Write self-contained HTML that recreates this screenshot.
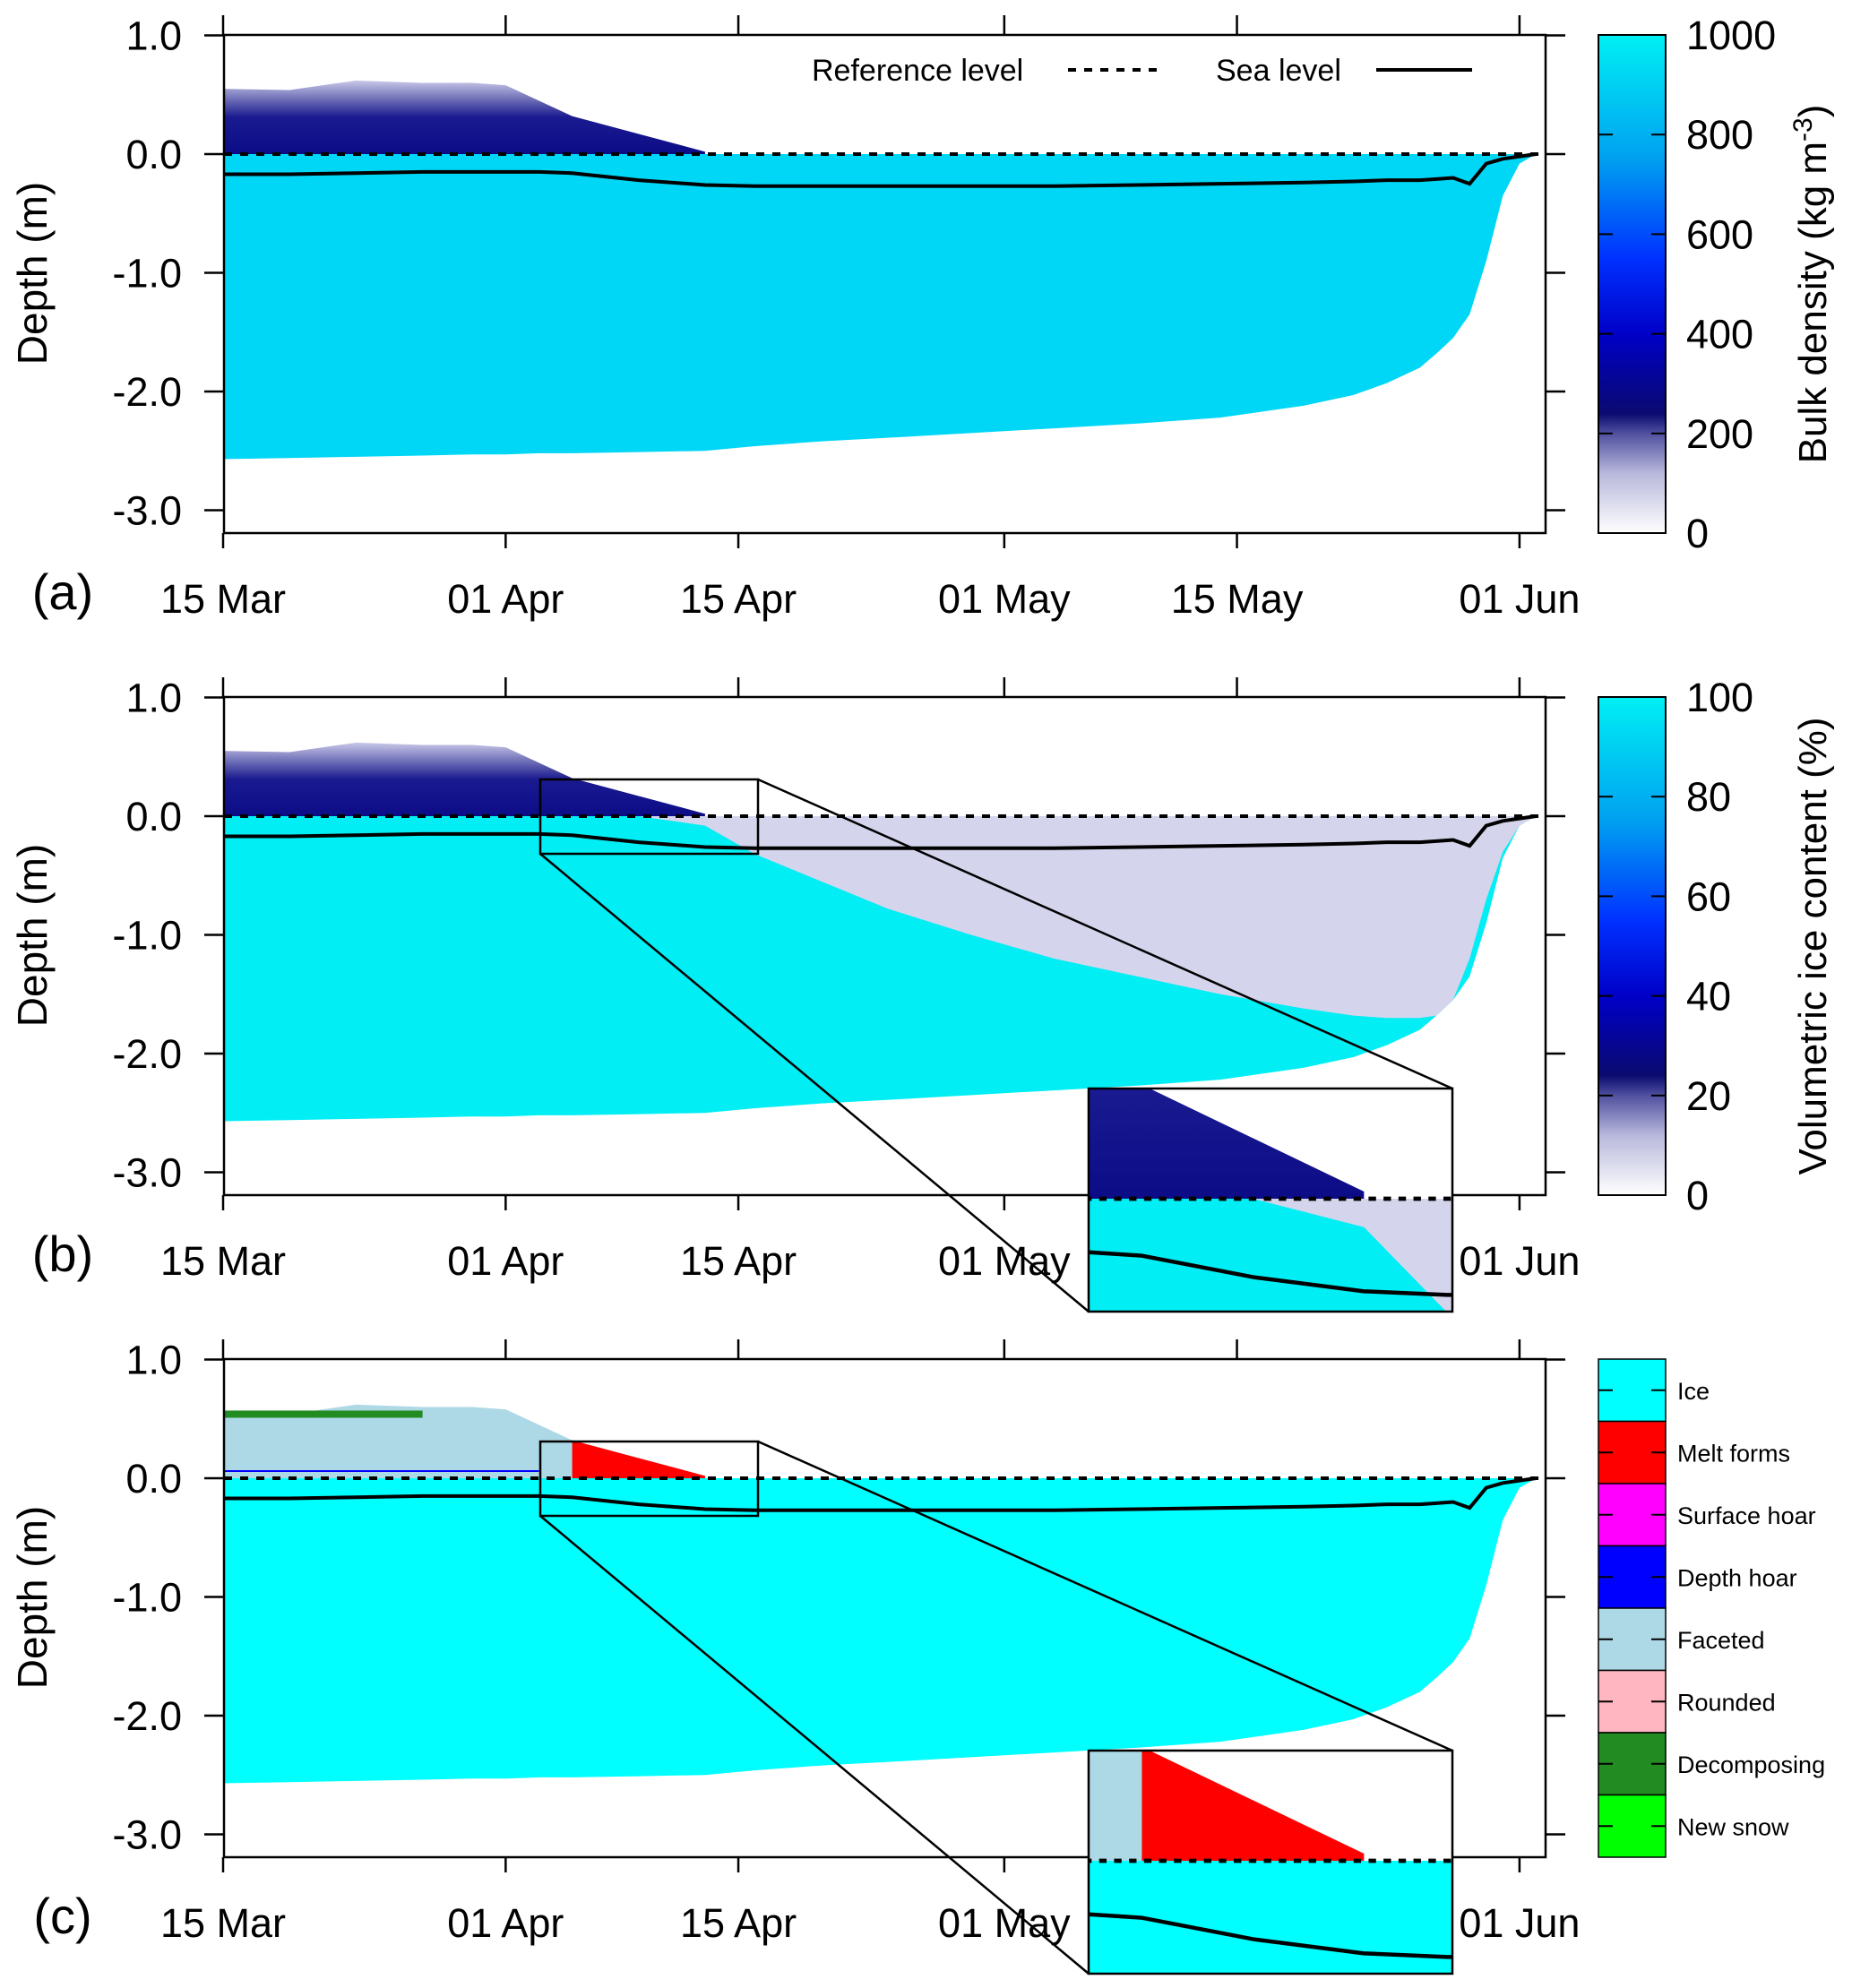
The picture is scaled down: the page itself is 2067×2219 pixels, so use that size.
<!DOCTYPE html>
<html><head><meta charset="utf-8"><style>
html,body{margin:0;padding:0;background:#fff;width:2067px;height:2219px;overflow:hidden}
svg{display:block;overflow:hidden}
text{font-family:"Liberation Sans",sans-serif;fill:#000}
</style></head><body>
<svg id="fig" width="2067" height="2219" viewBox="0 0 2067 2219" xmlns="http://www.w3.org/2000/svg">
<defs>
<linearGradient id="snowGrad" x1="0" y1="0" x2="0" y2="1">
<stop offset="0" stop-color="#c8c8e8"/><stop offset="0.25" stop-color="#7070b8"/><stop offset="0.5" stop-color="#1a1a90"/><stop offset="1" stop-color="#0c0c88"/></linearGradient>
<linearGradient id="cbA" x1="0" y1="1" x2="0" y2="0">
<stop offset="0" stop-color="#ffffff"/><stop offset="0.12" stop-color="#b8b8dc"/><stop offset="0.2" stop-color="#5050a0"/><stop offset="0.24" stop-color="#0a0a70"/><stop offset="0.4" stop-color="#0000c8"/><stop offset="0.55" stop-color="#0030ff"/><stop offset="0.75" stop-color="#00a0f0"/><stop offset="1" stop-color="#00f0f4"/></linearGradient>
<clipPath id="clipA"><rect x="250" y="39" width="1475" height="556"/></clipPath>
<clipPath id="clipB"><rect x="250" y="778" width="1475" height="556"/></clipPath>
<clipPath id="clipC"><rect x="250" y="1517" width="1475" height="556"/></clipPath>
<clipPath id="clipZB"><rect x="603" y="870" width="243" height="83"/></clipPath>
<clipPath id="clipZC"><rect x="603" y="1609" width="243" height="83"/></clipPath>
</defs>
<g id="root"></g>
</svg>
<script>
const days=[0,4,8,12,15,17,19,21,25,29,32,36,40,45,50,55,60,65,68,70,72,73,74,75,76,77,78,79];
const iceBottom=[-2.57,-2.56,-2.55,-2.54,-2.53,-2.53,-2.52,-2.52,-2.51,-2.5,-2.46,-2.42,-2.39,-2.35,-2.31,-2.27,-2.22,-2.12,-2.03,-1.93,-1.8,-1.68,-1.55,-1.35,-0.9,-0.35,-0.08,0];
const snowTop=[0.55,0.54,0.62,0.6,0.6,0.58,0.45,0.32,0.17,0.02,0,0,0,0,0,0,0,0,0,0,0,0,0,0,0,0,0,0];
const seaLevel=[-0.17,-0.17,-0.16,-0.15,-0.15,-0.15,-0.15,-0.16,-0.22,-0.26,-0.27,-0.27,-0.27,-0.27,-0.27,-0.26,-0.25,-0.24,-0.23,-0.22,-0.22,-0.21,-0.2,-0.25,-0.08,-0.04,-0.02,0];
const slushBottom=[0,0,0,0,0,0,0,0,0,-0.08,-0.32,-0.55,-0.78,-1.0,-1.2,-1.35,-1.5,-1.62,-1.68,-1.7,-1.7,-1.68,-1.55,-1.2,-0.7,-0.3,-0.08,0];
const dateLabels=["15 Mar","01 Apr","15 Apr","01 May","15 May","01 Jun"];
const dateDays=[0,17,31,47,61,78];
const depthTicks=[1,0,-1,-2,-3];
const cbTicksA=[0,200,400,600,800,1000];
const cbTicksB=[0,20,40,60,80,100];
const classes=["Ice","Melt forms","Surface hoar","Depth hoar","Faceted","Rounded","Decomposing","New snow"];
const classColors=["#00ffff","#ff0000","#ff00ff","#0000ff","#add8e6","#ffb6c1","#228b22","#00ff00"];

const NS="http://www.w3.org/2000/svg";
const root=document.getElementById('root');
const X=d=>249+d*18.55;
const Y=(v,off)=>off+172-v*132.5;
function el(tag,attrs,parent){const e=document.createElementNS(NS,tag);for(const k in attrs)e.setAttribute(k,attrs[k]);(parent||root).appendChild(e);return e;}
function poly(top,bot,off,filter){let pts=[];let idx=days.map((d,i)=>i).filter(filter||(()=>true));
 idx.forEach(i=>pts.push(X(days[i])+','+Y(top[i],off)));
 idx.slice().reverse().forEach(i=>pts.push(X(days[i])+','+Y(bot[i],off)));return pts.join(' ');}
const zeros=days.map(()=>0);

function panel(off,kind,clip,parent,inset){
 const g=el('g',{'clip-path':'url(#'+clip+')'},parent);
 
 
 const iceCol=kind==='a'?'#00d6f6':(kind==='b'?'#00eef4':'#00ffff');
 const ice=el('polygon',{points:poly(zeros,iceBottom,off),fill:iceCol},g);
 
 
 if(kind==='b'){
  const s=el('polygon',{points:poly(zeros,slushBottom,off),fill:'#d4d4ec'},g);
  
  
 }
 if(kind==='c'){
  const f=el('polygon',{points:poly(snowTop,zeros,off,i=>days[i]<=21),fill:'#add8e6'},g);
  
  
  const r=el('polygon',{points:poly(snowTop,zeros,off,i=>days[i]>=21&&days[i]<=29),fill:'#ff0000'},g);
  
  
  const gr=el('rect',{x:X(0),y:Y(0.57,off),width:X(12)-X(0),height:8,fill:'#228b22'},g);
  
  
  const bl=el('line',{x1:X(0),x2:X(19),y1:Y(0.06,off),y2:Y(0.06,off),stroke:'#0000ff','stroke-width':2},g);
  
  
 } else {
  const sn=el('polygon',{points:poly(snowTop,zeros,off,i=>days[i]<=29),fill:'url(#snowGrad)'},g);
  
  
 }
 const sw=inset?1.6:4;
 const ref=el('line',{x1:250,x2:1725,y1:Y(0,off),y2:Y(0,off),stroke:'#000','stroke-width':sw,'stroke-dasharray':inset?'5 5':'9 9'},g);
 
 
 const sl=el('polyline',{points:days.map((d,i)=>X(d)+','+Y(seaLevel[i],off)).join(' '),fill:'none',stroke:'#000','stroke-width':inset?1.5:4},g);
 
 
 return g;
}
function axes(off,label){
 const b=el('rect',{x:250,y:off+39,width:1475,height:556,fill:'none',stroke:'#000','stroke-width':2.5});
 
 
 dateDays.forEach((d,i)=>{
  el('line',{x1:X(d),x2:X(d),y1:off+17,y2:off+39,stroke:'#000','stroke-width':2.5});
  el('line',{x1:X(d),x2:X(d),y1:off+595,y2:off+612,stroke:'#000','stroke-width':2.5});
  const t=el('text',{x:X(d),y:off+684,'font-size':45,'text-anchor':'middle'});t.textContent=dateLabels[i];
  
  
 });
 depthTicks.forEach(v=>{
  el('line',{x1:228,x2:250,y1:Y(v,off),y2:Y(v,off),stroke:'#000','stroke-width':2.5});
  el('line',{x1:1725,x2:1747,y1:Y(v,off),y2:Y(v,off),stroke:'#000','stroke-width':2.5});
  const t=el('text',{x:203,y:Y(v,off)+16,'font-size':45,'text-anchor':'end'});t.textContent=v.toFixed(1);
  
  
 });
 const yt=el('text',{x:0,y:0,'font-size':46,'text-anchor':'middle',transform:`translate(52,${off+305}) rotate(-90)`});yt.textContent='Depth (m)';
 
 
 const pl=el('text',{x:70,y:off+680,'font-size':56,'text-anchor':'middle'});pl.textContent='('+label+')';
 
 
}
panel(0,'a','clipA');panel(739,'b','clipB');panel(1478,'c','clipC');
axes(0,'a');axes(739,'b');axes(1478,'c');

// legend panel a
const lt1=el('text',{x:906,y:90,'font-size':34});lt1.textContent='Reference level';


el('line',{x1:1192,x2:1300,y1:78,y2:78,stroke:'#000','stroke-width':4,'stroke-dasharray':'9 9'});
const lt2=el('text',{x:1357,y:90,'font-size':34});lt2.textContent='Sea level';


el('line',{x1:1536,x2:1643,y1:78,y2:78,stroke:'#000','stroke-width':4});

// colorbars
function cbar(off,ticks,title){
 const r=el('rect',{x:1784,y:off+39,width:75,height:556,fill:'url(#cbA)',stroke:'#000','stroke-width':2});
 
 
 ticks.forEach((v,i)=>{const y=off+595-i*556/(ticks.length-1);
  if(i>0&&i<ticks.length-1){el('line',{x1:1784,x2:1800,y1:y,y2:y,stroke:'#000','stroke-width':2});el('line',{x1:1843,x2:1859,y1:y,y2:y,stroke:'#000','stroke-width':2});}
  const t=el('text',{x:1882,y:y+16,'font-size':45});t.textContent=v;
  
  });
 const t=el('text',{x:0,y:0,'font-size':44,'text-anchor':'middle',transform:`translate(2038,${off+317}) rotate(-90)`});t.innerHTML=title;
 
 
}
cbar(0,cbTicksA,'Bulk density (kg m<tspan dy="-16" font-size="30">-3</tspan><tspan dy="16">)</tspan>');
cbar(739,cbTicksB,'Volumetric ice content (%)');
// categorical legend
classes.forEach((c,i)=>{const h=556/8,y=1517+i*h;
 const r=el('rect',{x:1784,y:y,width:75,height:h,fill:classColors[i],stroke:'#000','stroke-width':1.5});
 
 
 el('line',{x1:1784,x2:1800,y1:y+h/2,y2:y+h/2,stroke:'#000','stroke-width':2});el('line',{x1:1843,x2:1859,y1:y+h/2,y2:y+h/2,stroke:'#000','stroke-width':2});
 const t=el('text',{x:1872,y:y+h/2+10,'font-size':27});t.textContent=c;
 
 
});
// insets
function inset(off,kind,clip){
 const bx=603,by=off+131,bw=243,bh=83, ix=1215,iy=off+476,iw=406,ih=249;
 el('line',{x1:bx+bw,y1:by,x2:ix+iw,y2:iy,stroke:'#000','stroke-width':2.5});
 el('line',{x1:bx,y1:by+bh,x2:ix,y2:iy+ih,stroke:'#000','stroke-width':2.5});
 const z=el('rect',{x:bx,y:by,width:bw,height:bh,fill:'none',stroke:'#000','stroke-width':2.5});
 
 
 el('rect',{x:ix,y:iy,width:iw,height:ih,fill:'#fff'});
 const sx=iw/bw,sy=ih/bh;
 const g=el('g',{transform:`translate(${ix-bx*sx},${iy-by*sy}) scale(${sx},${sy})`});
 
 
 panel(off,kind,clip,g,true);
 const f=el('rect',{x:ix,y:iy,width:iw,height:ih,fill:'none',stroke:'#000','stroke-width':2.5});
 
 
}
inset(739,'b','clipZB');inset(1478,'c','clipZC');
</script>
</body></html>
